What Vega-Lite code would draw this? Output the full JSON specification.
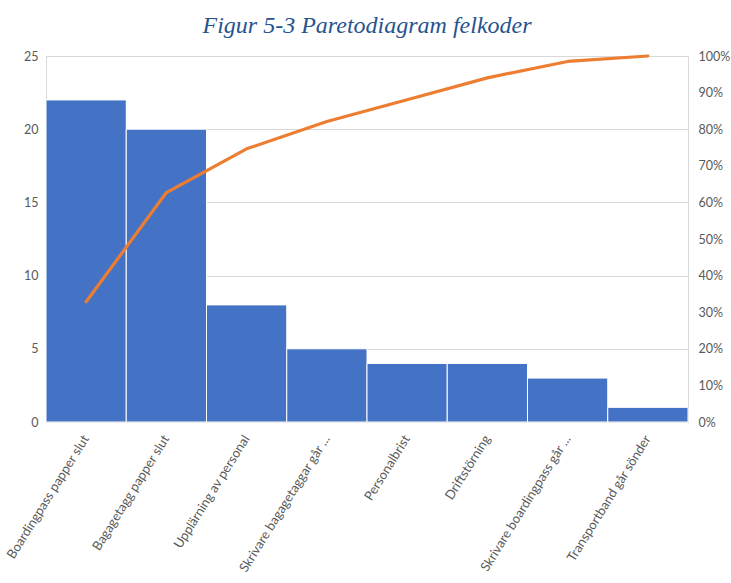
{
  "$schema": "https://vega.github.io/schema/vega-lite/v6.json",
  "width": 642,
  "height": 366,
  "autosize": {"type": "none"},
  "padding": {"left": 46, "top": 56, "right": 43, "bottom": 161},
  "background": "white",
  "title": {
    "text": "Figur 5-3 Paretodiagram felkoder",
    "font": "Liberation Serif",
    "fontStyle": "italic",
    "fontWeight": "normal",
    "fontSize": 24,
    "color": "#27538F",
    "anchor": "middle",
    "offset": 12
  },
  "config": {
    "view": {"stroke": "#d9d9d9", "strokeWidth": 1},
    "axis": {
      "labelFont": "Lato",
      "labelFontSize": 12.5,
      "labelColor": "#595959",
      "titleColor": "#595959",
      "domainColor": "#d9d9d9",
      "gridColor": "#d9d9d9",
      "ticks": false
    }
  },
  "data": {
    "values": [
      {"felkod": "Boardingpass papper slut", "antal": 22, "kumulativ": 0.3284},
      {"felkod": "Bagagetagg papper slut", "antal": 20, "kumulativ": 0.6269},
      {"felkod": "Upplärning av personal", "antal": 8, "kumulativ": 0.7463},
      {"felkod": "Skrivare bagagetaggar går ...", "antal": 5, "kumulativ": 0.8209},
      {"felkod": "Personalbrist", "antal": 4, "kumulativ": 0.8806},
      {"felkod": "Driftstörning", "antal": 4, "kumulativ": 0.9403},
      {"felkod": "Skrivare boardingpass går ...", "antal": 3, "kumulativ": 0.9851},
      {"felkod": "Transportband går sönder", "antal": 1, "kumulativ": 1.0}
    ]
  },
  "encoding": {
    "x": {
      "field": "felkod",
      "type": "nominal",
      "sort": null,
      "scale": {"paddingInner": 0, "paddingOuter": 0},
      "axis": {
        "title": null,
        "labelAngle": -58,
        "labelPadding": 14,
        "labelFontSize": 13,
        "labelLimit": 200,
        "domain": true
      }
    }
  },
  "layer": [
    {
      "mark": {"type": "bar", "color": "#4472C4", "stroke": "white", "strokeWidth": 1},
      "encoding": {
        "y": {
          "field": "antal",
          "type": "quantitative",
          "scale": {"domain": [0, 25]},
          "axis": {
            "title": null,
            "values": [0, 5, 10, 15, 20, 25],
            "grid": true,
            "domain": false,
            "labelPadding": 8
          }
        }
      }
    },
    {
      "mark": {"type": "line", "color": "#ED7D31", "strokeWidth": 3.2, "strokeCap": "round", "strokeJoin": "round"},
      "encoding": {
        "y": {
          "field": "kumulativ",
          "type": "quantitative",
          "scale": {"domain": [0, 1]},
          "axis": {
            "title": null,
            "orient": "right",
            "values": [0, 0.1, 0.2, 0.3, 0.4, 0.5, 0.6, 0.7, 0.8, 0.9, 1],
            "format": ".0%",
            "grid": false,
            "domain": false,
            "labelPadding": 10
          }
        }
      }
    }
  ],
  "resolve": {"scale": {"y": "independent"}}
}
